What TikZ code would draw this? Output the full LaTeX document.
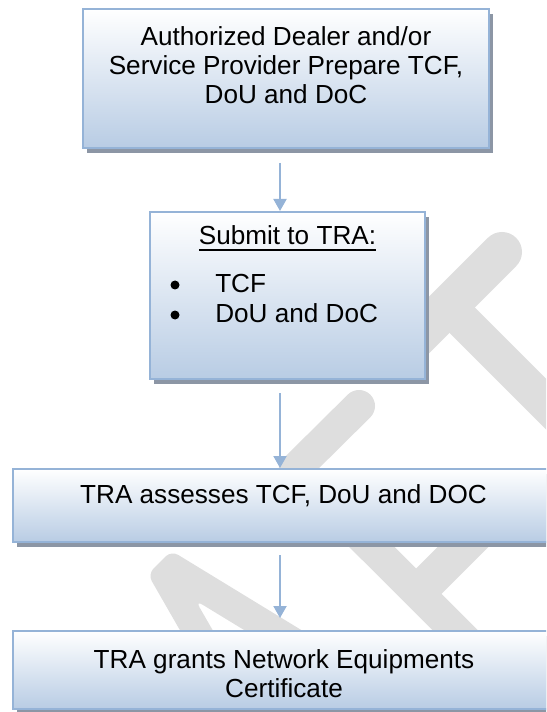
\documentclass[tikz,border=0pt]{standalone}
\usepackage{fontspec}
\setmainfont{Liberation Sans}
\usetikzlibrary{arrows.meta,shadows}
\definecolor{boxblue}{RGB}{184,204,228}
\definecolor{boxline}{RGB}{149,179,215}
\definecolor{shadowc}{RGB}{140,150,165}
\definecolor{wmark}{RGB}{222,222,222}
\newcommand\myuline[1]{\setbox0\hbox{#1}\rlap{\rule[-4.5pt]{\wd0}{1.5pt}}\box0}
\begin{document}
\begin{tikzpicture}[x=0.75pt,y=-0.75pt,
  flowbox/.style={rectangle, draw=boxline, line width=1.5pt, top color=white, bottom color=boxblue, inner sep=0pt,
    drop shadow={shadow xshift=3pt, shadow yshift=-3.75pt, fill=shadowc, opacity=1}},
  boxtext/.style={font=\fontsize{19.6pt}{21.75pt}\selectfont, inner sep=0pt, align=center, text=black},
  bulletdot/.style={circle, fill=black, inner sep=0pt, minimum size=6.75pt},
  flowarrow/.style={draw=boxline, line width=1.5pt, -{Triangle[width=9.75pt,length=9pt]}},
  wm/.style={draw=wmark, line cap=round, line join=round}]
\useasboundingbox (0,0) rectangle (546,712);
\clip (0,0) rectangle (546,712);
% watermark (letters A, F, T of a diagonal "DRAFT")
\fill[wmark, rounded corners=6pt] (147.8,574.2) -- (171.3,550.7) -- (416,700) -- (359,700) -- (195.5,600.4) -- (253,700) -- (220,700) -- cycle;
\draw[wm, line width=24pt] (359,406) -- (294.6,469.8) -- (505,680);
\draw[wm, line width=27pt] (421,589) -- (475,535);
\draw[wm, line width=30pt] (502,252) -- (398,356);
\draw[wm, line width=27pt] (448,306) -- (640,498);
% boxes
\node[flowbox, minimum width=406*0.75pt, minimum height=139*0.75pt] (b1) at (286,78.5) {};
\node[flowbox, minimum width=275*0.75pt, minimum height=167*0.75pt] (b2) at (287.5,295.5) {};
\node[flowbox, minimum width=542*0.75pt, minimum height=73*0.75pt] (b3) at (284,505.5) {};
\node[flowbox, minimum width=542*0.75pt, minimum height=78*0.75pt] (b4) at (284,670) {};
% texts
\node[boxtext, anchor=north] (t1) at (286,26) {Authorized Dealer and/or\\Service Provider Prepare TCF,\\DoU and DoC};
\node[boxtext, anchor=base] (t2) at (287.5,245) {\myuline{Submit to TRA:}};
\node[bulletdot] (d1) at (175,285) {};
\node[bulletdot] (d2) at (175,315) {};
\node[boxtext, anchor=base west] (i1) at (215,292) {TCF};
\node[boxtext, anchor=base west] (i2) at (215,322) {DoU and DoC};
\node[boxtext, anchor=base] (t3) at (283.5,503) {TRA assesses TCF, DoU and DOC};
\node[boxtext, anchor=north] (t4) at (284,649) {TRA grants Network Equipments\\Certificate};
% arrows
\coordinate (ax) at (280,0);
\draw[flowarrow, shorten <=10.5pt] (b1.south -| ax) -- (b2.north -| ax);
\draw[flowarrow, shorten <=9.75pt] (b2.south -| ax) -- (b3.north -| ax);
\draw[flowarrow, shorten <=9pt, shorten >=9pt] (b3.south -| ax) -- (b4.north -| ax);
\end{tikzpicture}
\end{document}
